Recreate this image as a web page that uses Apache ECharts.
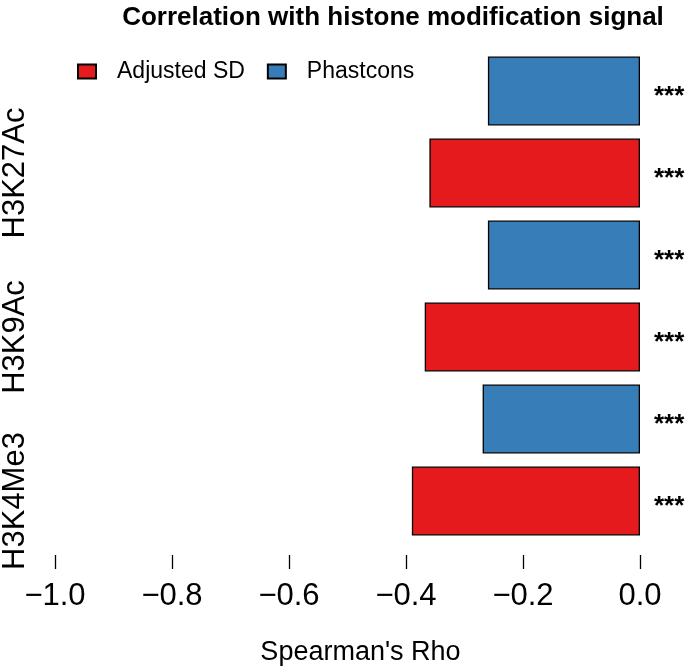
<!DOCTYPE html>
<html>
<head>
<meta charset="utf-8">
<script src="https://cdn.jsdelivr.net/npm/echarts@6/dist/echarts.min.js"></script>
<style>
html,body{margin:0;padding:0;background:#fff;}
#main{width:685px;height:668px;}
</style>
</head>
<body>
<div id="main"></div>
<script>
// ---- data (top to bottom) ----
var categories = ['H3K27Ac', 'H3K9Ac', 'H3K4Me3'];
var adjustedSD = [-0.360, -0.368, -0.390];
var phastcons  = [-0.260, -0.260, -0.269];
var signifAdjusted = ['***', '***', '***'];
var signifPhastcons = ['***', '***', '***'];
var xTicks = [-1.0, -0.8, -0.6, -0.4, -0.2, 0.0];
var seriesNames = ['Adjusted SD', 'Phastcons'];

var FONT = 'Liberation Sans, Arial, Helvetica, sans-serif';
var RED = '#E41A1C', BLUE = '#377EB8';

// build 6 slots: for each category, Phastcons (upper) then Adjusted SD (lower)
var slots = [], adjData = [], phData = [], slotSig = [];
categories.forEach(function (c, i) {
  slots.push(c + '|' + seriesNames[1]);
  phData.push(phastcons[i]); adjData.push('-'); slotSig.push(signifPhastcons[i]);
  slots.push(c + '|' + seriesNames[0]);
  phData.push('-'); adjData.push(adjustedSD[i]); slotSig.push(signifAdjusted[i]);
});

var chart = echarts.init(document.getElementById('main'), null, {renderer: 'canvas'});
var starLabel = {
  show: true, position: 'right', distance: 14,
  formatter: function (p) { return slotSig[p.dataIndex]; },
  color: '#000', fontFamily: FONT, fontSize: 26, fontWeight: 'bold', offset: [0, 6]
};
chart.setOption({
  animation: false,
  backgroundColor: '#fff',
  title: {
    text: 'Correlation with histone modification signal',
    left: 388, top: 0, textAlign: 'center',
    textStyle: {fontFamily: FONT, fontWeight: 'bold', fontSize: 26, color: '#000'}
  },
  legend: {
    data: seriesNames,
    left: 72, top: 55,
    itemWidth: 18, itemHeight: 14, itemGap: 22,
    icon: 'rect',
    textStyle: {fontFamily: FONT, fontSize: 23, color: '#000', padding: [0, 0, 0, 16]}
  },
  grid: {left: 55, right: 45, top: 50, height: 492, containLabel: false, outerBoundsMode: 'none'},
  xAxis: {
    type: 'value', min: -1, max: 0, interval: 0.2,
    offset: 13,
    axisLine: {show: false},
    axisTick: {show: true, inside: false, length: 14, lineStyle: {color: '#000', width: 1.3}},
    splitLine: {show: false},
    axisLabel: {
      margin: 26, fontFamily: FONT, fontSize: 31, color: '#000',
      formatter: function (v) {
        var t = xTicks.filter(function (x) { return Math.abs(x - v) < 1e-9; });
        if (!t.length) return '';
        var s = Math.abs(t[0]).toFixed(1);
        return (t[0] < -1e-9 ? '\u2212' : '') + s;
      }
    },
    name: "Spearman's Rho", nameLocation: 'middle', nameGap: 84,
    nameTextStyle: {fontFamily: FONT, fontSize: 27, color: '#000', padding: [0, 0, 0, 26]}
  },
  yAxis: {
    type: 'category', data: slots, inverse: true,
    axisLine: {show: false}, axisTick: {show: false},
    axisLabel: {
      rotate: 90, margin: 24, interval: 0,
      fontFamily: FONT, fontSize: 31, color: '#000',
      formatter: function (v) {
        var parts = v.split('|');
        return parts[1] === seriesNames[0] ? parts[0] : '';
      }
    }
  },
  series: [
    {
      name: seriesNames[0], type: 'bar', stack: 'all', data: adjData, barWidth: 69,
      itemStyle: {color: RED, borderColor: '#000', borderWidth: 1.3},
      label: starLabel
    },
    {
      name: seriesNames[1], type: 'bar', stack: 'all', data: phData, barWidth: 69,
      itemStyle: {color: BLUE, borderColor: '#000', borderWidth: 1.3},
      label: starLabel
    }
  ]
});
</script>
</body>
</html>
